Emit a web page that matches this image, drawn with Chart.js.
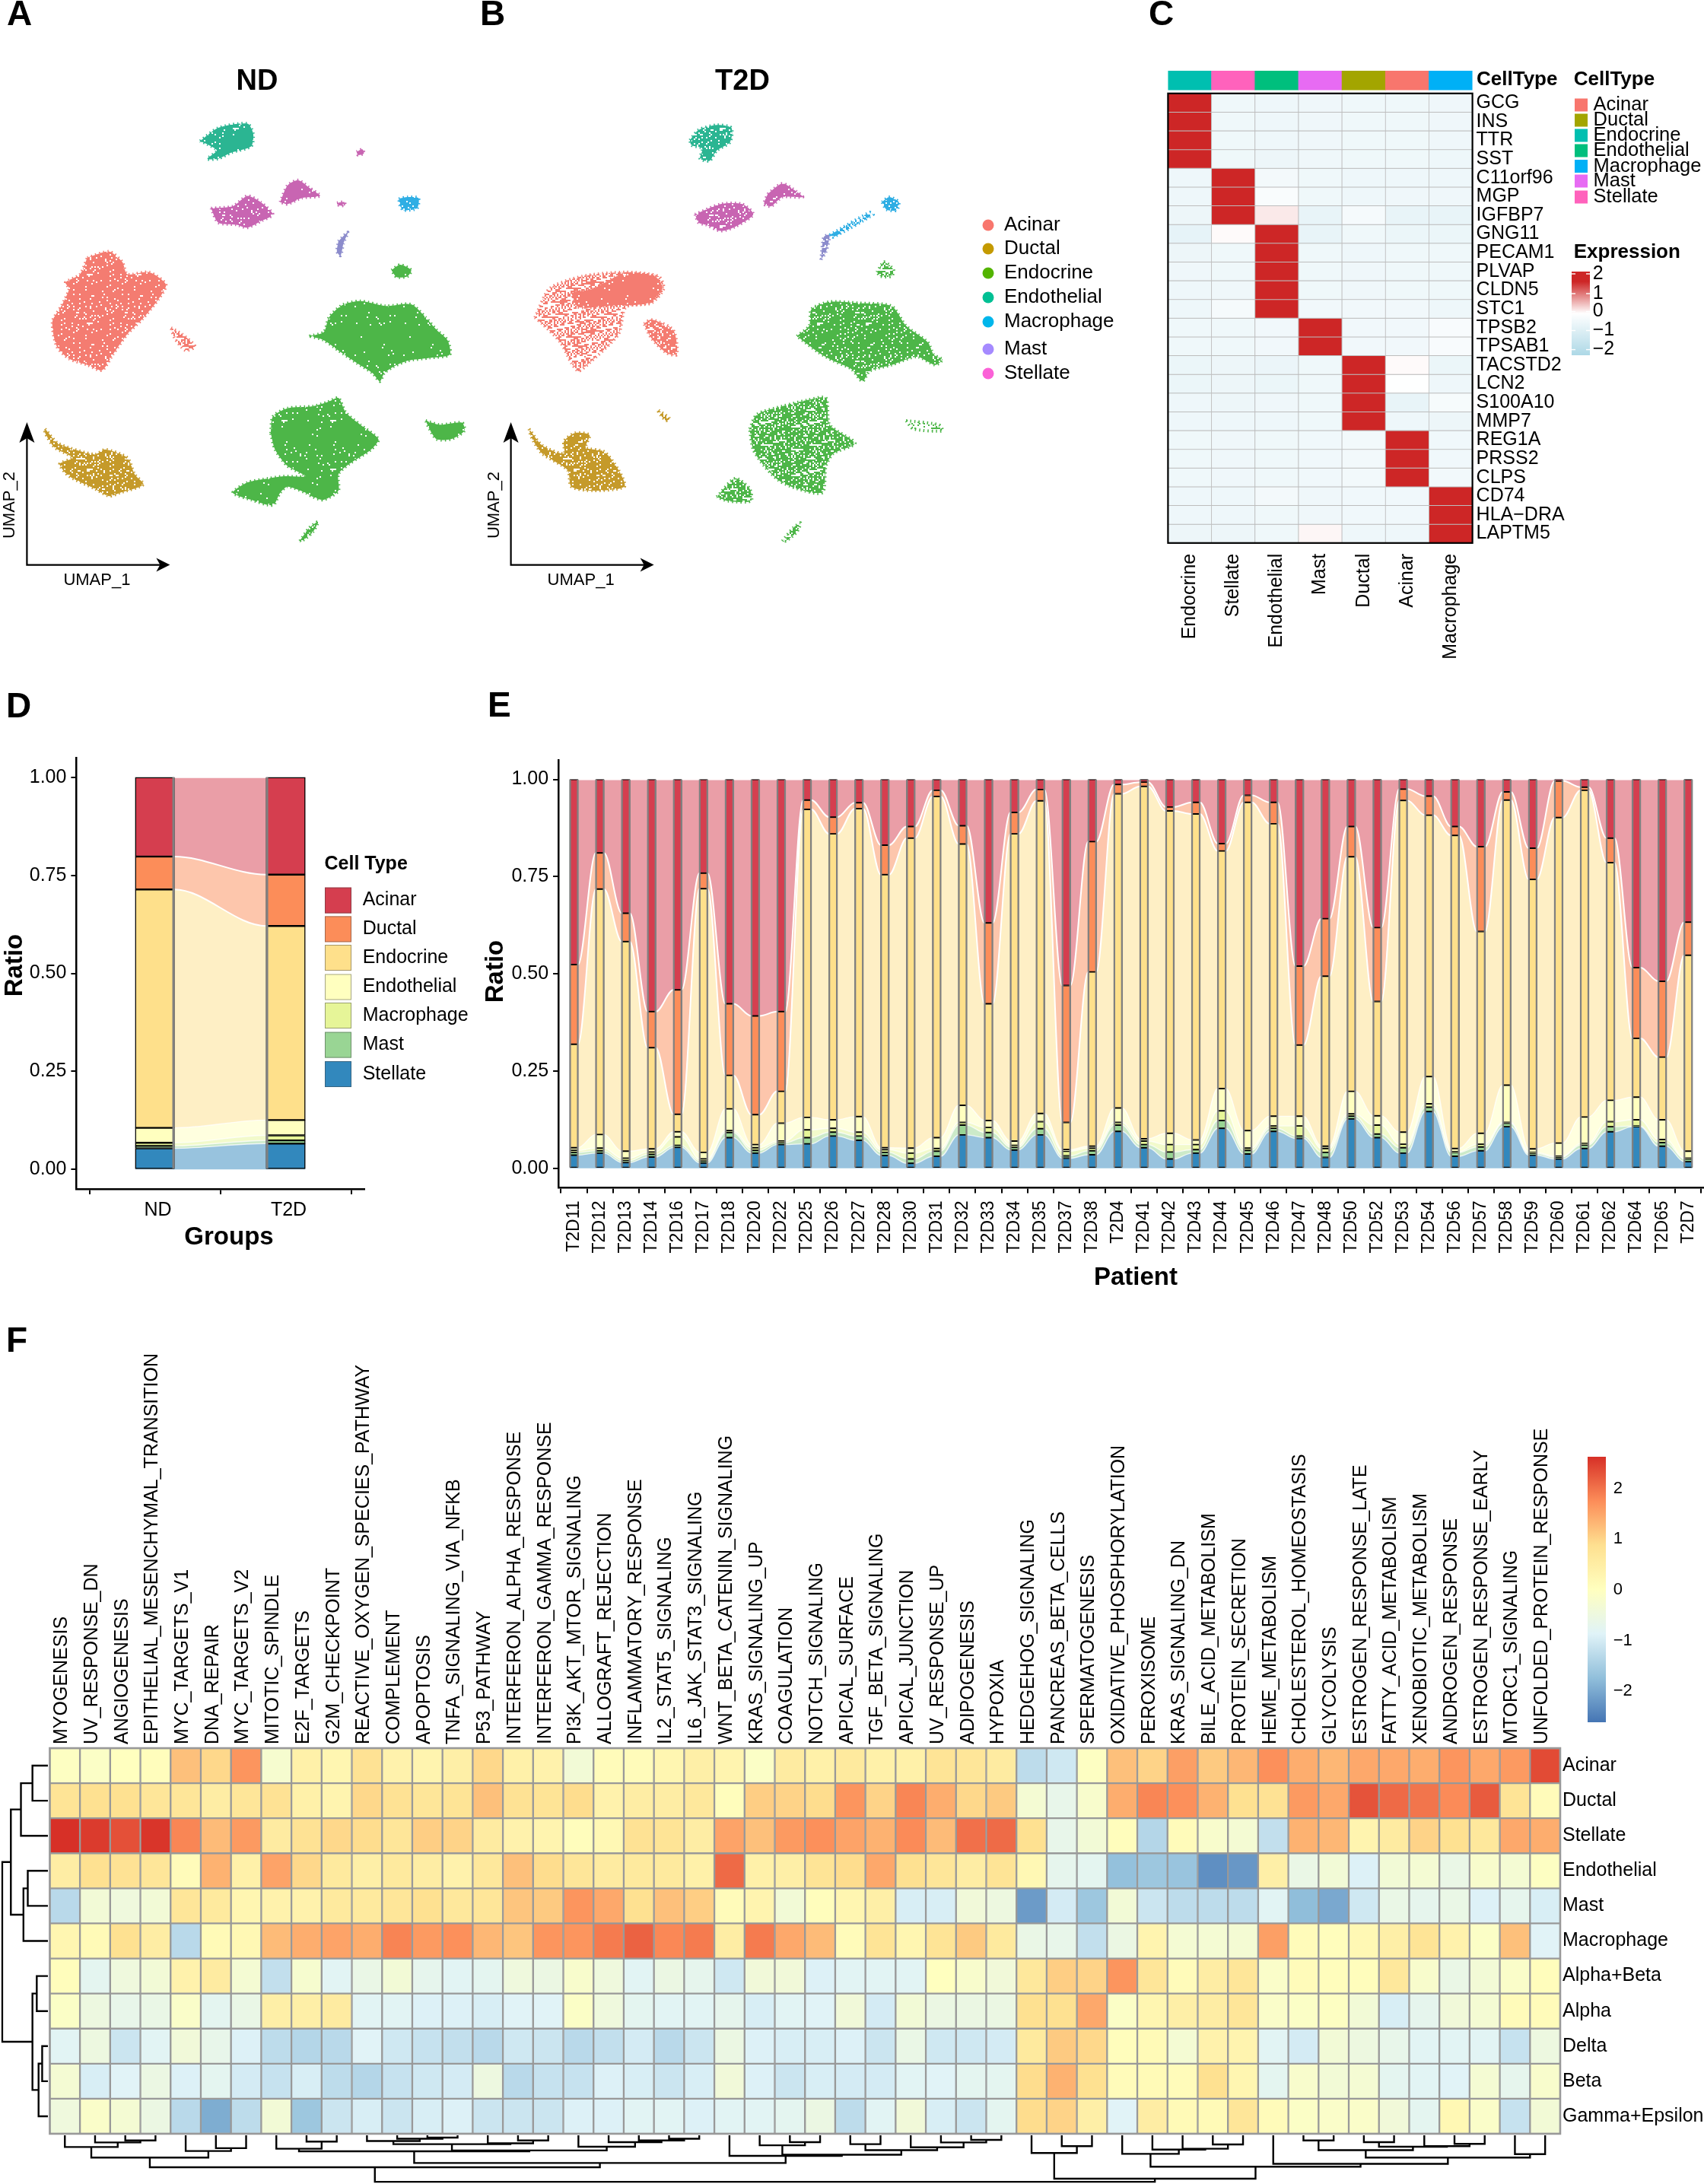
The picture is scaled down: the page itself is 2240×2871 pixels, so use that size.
<!DOCTYPE html>
<html>
<head>
<meta charset="utf-8">
<title>Islet atlas figure</title>
<script src="https://cdn.jsdelivr.net/npm/chart.js@4/dist/chart.umd.min.js"></script>
<style>
  html, body { margin: 0; background: #fff; }
  #page { position: relative; width: 2240px; height: 2871px; overflow: hidden; }
  canvas { position: absolute; left: 0; top: 0; }
</style>
</head>
<body>
<div id="page"></div>
<script>
// ---- panel A / B, cluster outlines in UMAP units
const ndEndothelial = [[24.5,99.8],[27,103],[31,104],[31.8,101.5],[31.5,98.5],[28.8,97],[27,95.5],[25.5,95.5],[26.8,97.5],[25.5,99]];
const ndStellateA = [[26,83.5],[29,84],[31,86.5],[32.8,85],[34.5,82],[33,80.5],[31,78.8],[29.5,79.5],[27,80]];
const ndStellateB = [[35.5,85],[36.5,89],[38,90.3],[39.5,88.5],[41,86.5],[38.5,86],[36.5,84.5]];
const ndStellateC = [[46,97.2],[46.8,97.8],[47,96.8],[46.2,96.4]];
const ndStellateD = [[43.3,84.8],[44.3,85],[44.4,84.2],[43.6,84.2]];
const ndMacrophage = [[51.8,85.8],[53,86.2],[54.5,86],[54.3,83.5],[52.5,83],[52,84]];
const ndMast = [[43.5,75.5],[44.8,77.7],[44.2,75],[43.8,72],[43.3,73]];
const ndEndocrineA = [[50.8,68.5],[52,69.8],[53.5,68.5],[53,67],[51.5,66.8]];
const ndEndocrineB = [[39.5,52.5],[41.5,53.5],[42.2,57],[44,60],[46.5,61],[50,59.8],[53.5,60.2],[55.5,57],[57,54],[58.5,51.5],[58.8,48],[56,47.2],[53,46.5],[51,45],[49.8,43.5],[49.2,41.5],[48.2,43.5],[46,46],[43.5,49],[41.5,51.5]];
const ndEndocrineC = [[34.2,29],[34.5,33],[36.5,35],[40,35.5],[42,36.5],[43.5,37.5],[44.5,34],[46.5,31],[49,27.5],[48,25],[45,21.5],[43.5,19],[43.5,15],[41.5,12.8],[40,13.5],[39,14.5],[36.5,16],[35.5,14.5],[34.5,11.5],[31.5,12.8],[29,14.5],[31,17],[34,18],[36,18.5],[39,18.5],[36.5,21],[34.8,25]];
const ndEndocrineD = [[55.5,32],[57.5,31],[60.5,31.5],[60.8,29.5],[59,27.5],[57,27.5],[56,30]];
const ndEndocrineE = [[38.2,2.8],[39.5,6],[40.7,7.5],[40,5],[38.5,2.8]];
const ndAcinarA = [[9,71.5],[12,73],[13.8,70.5],[14.5,67.5],[17.5,68],[19.8,65],[18.8,61.5],[16.5,56.5],[14.5,53],[12.5,48],[11,44.2],[9,45.5],[6.5,47],[4.8,50],[4.2,56],[5.5,60],[6.5,64],[6,65.5],[8,67.5]];
const ndAcinarB = [[20.5,54.5],[22,53],[23.8,50],[22.5,49],[21,52]];
const ndDuctal = [[3.2,30],[5,26.5],[10,23.8],[11.5,25],[14.5,23],[15.5,19],[16.7,16.5],[13.5,14.5],[12,13.7],[10,15.5],[6.5,18.5],[5.2,21.5],[7,23],[4.5,25.5],[3.2,29]];

const t2dEndothelial = [[25.3,100],[26.5,102.5],[29,103.7],[31,103],[30.8,99.5],[29,97.5],[28,95],[26.7,95.5],[27,98],[25.5,98.8]];
const t2dStellateA = [[26,82],[29.5,84.5],[32.5,84.5],[34,82],[31.5,79],[29.5,78],[27.5,79.5],[26.5,80]];
const t2dStellateB = [[36,87],[38,89.5],[40,87.5],[40.8,86.2],[38,86.2],[36.5,84],[35.5,84.5]];
const t2dMacrophageA = [[51.7,85],[52.7,86.2],[54,85],[53.7,83],[52.3,83.2]];
const t2dMacrophageB = [[44.5,77],[50,82.5],[50.5,82],[45,76.5]];
const t2dMast = [[43.3,71],[43.7,76.5],[44.5,77],[44,73]];
const t2dEndocrineA = [[51,68],[52,70.5],[53.3,68.5],[53,67],[51.5,67]];
const t2dEndocrineB = [[40,52.5],[41.7,55],[42,59],[44.5,60.8],[48.5,60.5],[53,59.8],[55,55],[58,51],[58.8,48],[60,46.8],[59,45.5],[56.5,47.5],[53,45.5],[50,44],[49,41.5],[47.5,44.5],[45,46.5],[43,48.5]];
const t2dEndocrineC = [[33.5,30],[34.5,33.5],[38,35.5],[41.5,37],[44,37.5],[44.5,31],[48,26.5],[45,24],[44,21],[43.5,14.5],[40,15.5],[37.5,17.5],[35.5,21],[34,25]];
const t2dEndocrineD = [[29,13.5],[31.5,18],[33.5,15.5],[33.7,12.5],[30.5,12.5]];
const t2dEndocrineE = [[38,2.8],[39.5,6],[40.5,7.2],[40,5],[38.5,2.8]];
const t2dEndocrineF = [[55,32],[59.5,31],[60,29.5],[56,30]];
const t2dAcinarSparse = [[4,57],[6,64],[10.5,67],[16.5,68],[21,67],[21.7,64],[20,60.5],[16.5,59.5],[15.5,53],[11.5,46],[10,44],[9,46],[7.5,51],[5,55.5]];
const t2dAcinarCore = [[9,63],[12,64],[16,67.5],[20.5,67],[21.5,64],[19.5,60.5],[15,60],[10,59.5]];
const t2dAcinarB = [[19,55.5],[20,56.5],[23,54],[23.5,48],[22,48.5],[20,52]];
const t2dDuctalA = [[3.2,30],[5,26],[8,24],[8,27],[9.5,29],[11.5,28.5],[11,25.5],[13.5,24.5],[15.5,20],[16.3,16],[12,15],[9,16],[8.5,20],[5,24],[3.5,28]];
const t2dDuctalB = [[21,34.5],[22.5,32.5],[22,32],[21,34]];

const umapTypes = ['Acinar', 'Ductal', 'Endocrine', 'Endothelial', 'Macrophage', 'Mast', 'Stellate'];
const umapDots = ['#F8766D', '#C49A00', '#53B400', '#00C094', '#00B6EB', '#A58AFF', '#FB61D7'];

// ---- panel C
const markerGenes = ['GCG','INS','TTR','SST','C11orf96','MGP','IGFBP7','GNG11','PECAM1','PLVAP','CLDN5','STC1','TPSB2','TPSAB1','TACSTD2','LCN2','S100A10','MMP7','REG1A','PRSS2','CLPS','CD74','HLA\u2212DRA','LAPTM5'];
const markerTypes = ['Endocrine','Stellate','Endothelial','Mast','Ductal','Acinar','Macrophage'];
const markerTypeColors = ['#00BFB0','#FF62BC','#00BF7D','#E76BF3','#A3A500','#F8766D','#00B0F6'];
const markerValues = [
  [2,-.38,-.42,-.4,-.38,-.38,-.4],
  [2,-.38,-.42,-.4,-.38,-.38,-.4],
  [2,-.38,-.42,-.4,-.38,-.38,-.4],
  [2,-.38,-.45,-.4,-.38,-.38,-.42],
  [-.42,2,-.3,-.38,-.42,-.42,-.42],
  [-.42,2,-.15,-.38,-.42,-.4,-.4],
  [-.45,2,.2,-.55,-.25,-.55,-.55],
  [-.6,.05,2,-.55,-.38,-.48,-.48],
  [-.45,-.38,2,-.38,-.42,-.38,-.38],
  [-.4,-.38,2,-.38,-.4,-.38,-.38],
  [-.42,-.4,2,-.38,-.4,-.38,-.38],
  [-.42,-.25,2,-.35,-.35,-.35,-.42],
  [-.38,-.38,-.35,2,-.35,-.35,-.18],
  [-.38,-.38,-.35,2,-.35,-.35,-.18],
  [-.48,-.45,-.5,-.38,2,.05,-.48],
  [-.48,-.45,-.48,-.38,2,-.02,-.42],
  [-.42,-.45,-.4,-.38,2,-.55,-.22],
  [-.42,-.42,-.42,-.38,2,-.42,-.45],
  [-.38,-.4,-.38,-.36,-.32,2,-.36],
  [-.38,-.4,-.38,-.36,-.32,2,-.36],
  [-.38,-.4,-.38,-.36,-.32,2,-.32],
  [-.42,-.42,-.3,-.4,-.36,-.36,2],
  [-.42,-.42,-.38,-.4,-.36,-.36,2],
  [-.45,-.45,-.38,.08,-.42,-.42,2]
];
const legendTypes = ['Acinar','Ductal','Endocrine','Endothelial','Macrophage','Mast','Stellate'];
const legendTypeColors = ['#F8766D','#A3A500','#00BFB0','#00BF7D','#00B0F6','#E76BF3','#FF62BC'];
const exprTicks = [2, 1, 0, -1, -2];

// ---- panels D / E, stacked tops of each cell type (bottom to top)
const cellTypes = ['Stellate','Mast','Macrophage','Endothelial','Endocrine','Ductal','Acinar'];
const cellColors = ['#3288BD','#99D594','#E6F598','#FFFFBF','#FEE08B','#FC8D59','#D53E4F'];
const ratioTicks = [0, 0.25, 0.5, 0.75, 1];

const groups = ['ND', 'T2D'];
const groupStellate = [.054, .066];
const groupMast = [.060, .074];
const groupMacrophage = [.068, .087];
const groupEndothelial = [.106, .126];
const groupEndocrine = [.714, .621];
const groupDuctal = [.798, .752];
const groupAcinar = [1, 1];

const patients = ['T2D11','T2D12','T2D13','T2D14','T2D16','T2D17','T2D18','T2D20','T2D22','T2D25','T2D26','T2D27','T2D28','T2D30','T2D31','T2D32','T2D33','T2D34','T2D35','T2D37','T2D38','T2D4','T2D41','T2D42','T2D43','T2D44','T2D45','T2D46','T2D47','T2D48','T2D50','T2D52','T2D53','T2D54','T2D56','T2D57','T2D58','T2D59','T2D60','T2D61','T2D62','T2D64','T2D65','T2D7'];
const patientStellate = [.034,.039,.015,.029,.054,.014,.079,.039,.061,.063,.083,.072,.033,.013,.031,.086,.079,.047,.086,.026,.035,.095,.053,.024,.039,.103,.037,.095,.077,.028,.127,.079,.039,.146,.031,.045,.107,.034,.024,.051,.094,.107,.057,.017];
const patientMast = [.041,.045,.020,.036,.059,.019,.092,.046,.066,.079,.093,.083,.041,.024,.044,.111,.092,.054,.102,.032,.045,.111,.061,.042,.048,.123,.046,.103,.083,.041,.134,.088,.053,.157,.041,.055,.116,.038,.029,.060,.107,.109,.066,.024];
const patientMacrophage = [.046,.052,.026,.042,.081,.024,.097,.053,.070,.099,.103,.093,.048,.039,.051,.118,.105,.059,.120,.044,.052,.118,.070,.061,.061,.148,.052,.109,.109,.051,.140,.111,.062,.166,.043,.062,.118,.041,.031,.064,.120,.125,.074,.026];
const patientEndothelial = [.053,.087,.044,.050,.094,.041,.153,.061,.116,.131,.125,.133,.053,.052,.079,.162,.123,.070,.141,.048,.057,.155,.076,.090,.073,.205,.097,.134,.134,.057,.198,.135,.093,.236,.051,.090,.214,.050,.065,.132,.175,.183,.125,.044];
const patientEndocrine = [.319,.718,.583,.310,.139,.719,.239,.138,.198,.923,.860,.925,.755,.849,.956,.834,.423,.860,.945,.118,.505,.963,.982,.919,.911,.816,.941,.886,.317,.494,.801,.429,.946,.908,.856,.609,.947,.743,.902,.972,.786,.334,.286,.548];
const patientDuctal = [.524,.811,.656,.403,.459,.759,.423,.392,.403,.947,.903,.940,.831,.879,.972,.881,.631,.915,.974,.470,.840,.987,.993,.929,.941,.835,.959,.941,.520,.642,.879,.619,.975,.957,.879,.827,.968,.823,.996,.980,.849,.516,.481,.633];
const patientAcinar = [1,1,1,1,1,1,1,1,1,1,1,1,1,1,1,1,1,1,1,1,1,1,1,1,1,1,1,1,1,1,1,1,1,1,1,1,1,1,1,1,1,1,1,1];

// ---- panel F
const pathways = ['MYOGENESIS','UV_RESPONSE_DN','ANGIOGENESIS','EPITHELIAL_MESENCHYMAL_TRANSITION','MYC_TARGETS_V1','DNA_REPAIR','MYC_TARGETS_V2','MITOTIC_SPINDLE','E2F_TARGETS','G2M_CHECKPOINT','REACTIVE_OXYGEN_SPECIES_PATHWAY','COMPLEMENT','APOPTOSIS','TNFA_SIGNALING_VIA_NFKB','P53_PATHWAY','INTERFERON_ALPHA_RESPONSE','INTERFERON_GAMMA_RESPONSE','PI3K_AKT_MTOR_SIGNALING','ALLOGRAFT_REJECTION','INFLAMMATORY_RESPONSE','IL2_STAT5_SIGNALING','IL6_JAK_STAT3_SIGNALING','WNT_BETA_CATENIN_SIGNALING','KRAS_SIGNALING_UP','COAGULATION','NOTCH_SIGNALING','APICAL_SURFACE','TGF_BETA_SIGNALING','APICAL_JUNCTION','UV_RESPONSE_UP','ADIPOGENESIS','HYPOXIA','HEDGEHOG_SIGNALING','PANCREAS_BETA_CELLS','SPERMATOGENESIS','OXIDATIVE_PHOSPHORYLATION','PEROXISOME','KRAS_SIGNALING_DN','BILE_ACID_METABOLISM','PROTEIN_SECRETION','HEME_METABOLISM','CHOLESTEROL_HOMEOSTASIS','GLYCOLYSIS','ESTROGEN_RESPONSE_LATE','FATTY_ACID_METABOLISM','XENOBIOTIC_METABOLISM','ANDROGEN_RESPONSE','ESTROGEN_RESPONSE_EARLY','MTORC1_SIGNALING','UNFOLDED_PROTEIN_RESPONSE'];
const cellRows = ['Acinar','Ductal','Stellate','Endothelial','Mast','Macrophage','Alpha+Beta','Alpha','Delta','Beta','Gamma+Epsilon'];
const acinarScores = [-.05,-.1,0,.05,1.2,.95,1.65,-.25,.4,.25,.8,.35,.3,.45,.95,.4,.35,-.35,.1,.1,.25,.45,.3,-.1,.55,.4,.6,.4,.4,.75,.7,.55,-1.25,-1.05,-.05,1.2,1,1.55,1.1,1.3,1.7,1.4,1.3,1.45,1.45,1.4,1.65,1.45,1.6,2.35];
const ductalScores = [.75,.85,.85,.7,.7,.5,.7,.8,.4,.3,.95,.8,.7,.75,1.2,.8,.75,.9,.35,.5,.5,.65,.05,1.05,1,.9,1.65,1,1.8,1.4,.95,1.1,-.3,-.65,-.2,1.4,1.8,1.7,1.35,.85,.8,1.6,1.45,2.27,2.06,1.96,1.75,2.2,.75,.1];
const stellateScores = [2.6,2.5,2.3,2.55,1.8,1.25,1.6,.55,.8,.95,.9,.7,1.05,1,.55,.35,.3,.05,.2,.8,.75,.5,1.5,1.2,1.6,1.7,1.5,1.35,1.75,1.25,2,2.05,.85,-.65,-.35,.05,-1.35,.1,-.2,-.3,-1.2,1.35,1.3,.3,.55,1,.85,.65,1.45,1.4];
const endothelialScores = [.5,.85,.8,.7,.1,1.35,.4,1.5,.95,.6,.45,.6,.5,.35,.65,1.2,.9,.7,.55,.6,.6,.4,2.06,.4,.45,.75,.9,1.45,.85,.7,.5,.75,.2,-.7,-.75,-1.7,-1.6,-1.65,-2.3,-2.2,.45,-.6,-.35,-.9,-.35,-.3,-.6,-.2,-.3,-.05];
const mastScores = [-1.3,-.35,-.45,-.35,.7,.6,.25,.35,.35,.6,.6,.7,.85,.65,.7,1.15,1.1,1.65,1.45,.85,1.2,1.05,.1,.3,-.35,.05,.25,.45,-.95,-.95,-.4,-.5,-2.15,-1,-1.6,-.35,-1.1,-1.25,-1.25,-1.25,-.8,-1.75,-2,-1.05,-.6,-.7,-.6,-.9,-.7,-.95];
const macrophageScores = [.25,.15,.85,.5,-1.3,.15,.2,1.25,1.4,1.5,1.4,1.82,1.6,1.7,1.3,1.15,1.65,1.65,1.9,2.13,1.78,1.9,.5,1.9,1.45,1.25,.1,.75,.25,.75,1.1,.6,-.6,-.65,-1.2,-.55,.3,-.3,-.3,-.3,1.55,.1,.05,.2,.45,.75,.35,-.1,1.2,-.85];
const alphaBetaScores = [.05,-.75,-.45,-.35,.35,.55,-.3,-1.2,-.25,-.8,-.6,-.35,-.7,-.8,-.75,-.45,-.55,-.2,-.45,-.8,-.55,-.7,-1.05,-.4,-.4,-.9,-.8,-.8,-.8,0,-.2,-.4,.65,1.05,1,1.65,.7,.1,.5,.7,-.15,.1,.05,.05,.65,-.2,-.6,-.35,-.15,.05];
const alphaScores = [-.1,-.5,-.65,-.6,-.15,-.75,-.6,.45,.45,.55,-.8,-.8,-.9,-.9,-.95,-.85,-.85,-.1,-.45,-.75,-.8,-.8,-.7,-.95,-.8,-.85,-.4,-1,-.35,-.55,-.55,-.55,.85,.85,1.45,-.1,.25,.45,.5,.7,-.15,-.1,-.05,-.35,-.95,-.7,-.4,-.3,.1,.1];
const deltaScores = [-.8,-.5,-1.1,-.8,-.4,-.65,-.9,-1.25,-1.35,-1.3,-.85,-1.05,-1.15,-1.2,-1.3,-1.05,-1.1,-1.3,-1.2,-1,-1.3,-1.1,-.55,-.9,-.95,-.95,-.9,-1.1,-.6,-1.05,-1.05,-1,.6,1.1,.95,.05,.15,-.3,.35,.3,-.8,-1,-.35,-.5,-.65,-.8,-.8,-.8,-1.15,-.5];
const betaScores = [-.3,-.95,-.85,-.55,-.9,-.75,-1,-1.15,-.95,-1.25,-1.35,-1.15,-1.05,-1,-.5,-1.3,-1.15,-1.15,-.9,-.95,-1.1,-.95,-.4,-.9,-1.1,-.95,-1,-1,-.8,-.85,-.75,-.75,.9,1.35,.85,.1,.15,.1,.85,.25,-.75,-.2,-.35,-.3,-.75,-.8,-.85,-.3,-.7,-.2];
const gammaEpsilonScores = [-.45,-.15,-.3,-.55,-1.3,-1.95,-1.25,-.35,-1.6,-1.1,-.95,-1.1,-.95,-.9,-1.1,-1.1,-1.1,-.9,-.9,-.8,-.8,-.9,-.8,-.8,-.75,-.55,-1.25,-.8,-.4,-.95,-1.1,-.75,.9,1,.45,-.85,.5,.15,.15,.7,.1,-.1,-.15,-.15,-.4,-.75,.2,-.15,-1.15,-.35];
const scoreTicks = [2, 1, 0, -1, -2];

// dendrograms, hclust style: negative = leaf number, positive = earlier merge number
const pathwayMerges = [[-3,-4,1.8],[-2,1,2.5],[-1,2,4.1],[-6,-7,4.5],[-5,4,5.5],[3,5,7.8],[-9,-10,2.2],[-8,7,4.7],[-13,-14,.8],[-12,9,1.2],[-11,10,2],[-16,-17,1.8],[-15,12,2.8],[11,13,3.1],[-21,-22,1.2],[-20,15,1.8],[-19,16,2.4],[-18,17,4],[14,18,5.3],[8,19,5.6],[-25,-26,2.4],[-24,21,3.5],[-27,-28,3.1],[-31,-32,1.6],[-30,24,2.5],[-29,25,4.2],[23,26,5.2],[22,27,6.8],[-23,28,7.2],[20,29,9.7],[6,30,11.2],[-34,-35,3.8],[-33,32,6.2],[-39,-40,3.2],[-38,34,4.7],[-37,35,5],[-36,36,6.5],[-42,-43,1.8],[-44,-45,2.4],[-47,-48,3],[-46,40,3.8],[39,41,4],[38,42,5.2],[-49,-50,6.6],[43,44,7.8],[-41,45,10],[37,46,11],[33,47,15.2],[31,48,16.3]];
const rowMerges = [[-1,-2,4.3],[1,-3,7.5],[-4,-5,5.6],[3,-6,6.8],[2,4,10.3],[-7,-8,3.1],[-9,-10,1.6],[7,-11,2.6],[6,8,4.3],[5,9,12.7]];

// ---- setup
Chart.defaults.font.family = '"Liberation Sans"';
Chart.defaults.color = '#000';
Chart.defaults.animation = false;
Chart.defaults.devicePixelRatio = 1;
Chart.defaults.responsive = false;
Chart.defaults.events = [];
Chart.defaults.plugins.legend.display = false;
Chart.defaults.plugins.tooltip.enabled = false;

const W = 2240, H = 2871;
const page = document.getElementById('page');

function newCanvas() {
  const c = document.createElement('canvas');
  c.width = W;
  c.height = H;
  page.appendChild(c);
  return c;
}

// plot area in page pixels, every canvas covers the whole page
function area(left, top, right, bottom) {
  return { padding: { left, top, right: W - right, bottom: H - bottom } };
}

function fixSize(prop, size) {
  return s => {
    s[prop] = size;
    s.paddingLeft = s.paddingRight = s.paddingTop = s.paddingBottom = 0;
  };
}

function text(ctx, str, x, y, font, opts) {
  opts = opts || {};
  ctx.save();
  ctx.font = font + ' "Liberation Sans"';
  ctx.fillStyle = opts.color || '#000';
  ctx.textAlign = opts.align || 'left';
  ctx.textBaseline = 'middle';
  ctx.translate(x, y);
  if (opts.up) ctx.rotate(-Math.PI / 2);
  ctx.fillText(str, 0, 0);
  ctx.restore();
}

function mix(a, b, t) {
  const pa = parseInt(a.slice(1), 16), pb = parseInt(b.slice(1), 16);
  const ch = s => {
    const x = (pa >> s) & 255, y = (pb >> s) & 255;
    return Math.round(x + (y - x) * t);
  };
  return 'rgb(' + ch(16) + ',' + ch(8) + ',' + ch(0) + ')';
}

function exprColor(v) {
  const t = Math.min(Math.abs(v) / 2, 1);
  return v >= 0 ? mix('#FFFFFF', '#CD2626', t) : mix('#FFFFFF', '#ADD8E6', t);
}

const scoreStops = ['#4575B4','#91BFDB','#E0F3F8','#FFFFBF','#FEE090','#FC8D59','#D73027'];
function scoreColor(v) {
  const p = Math.max(0, Math.min(5.999, (v + 2.6) / 5.2 * 6));
  const i = Math.floor(p);
  return mix(scoreStops[i], scoreStops[i + 1], p - i);
}

// grainy fill so the clusters read as dense point clouds (fixed hash, no randomness)
function stipple(color, keep) {
  const n = 64;
  const tile = document.createElement('canvas');
  tile.width = tile.height = n;
  const t = tile.getContext('2d');
  t.fillStyle = color;
  t.fillRect(0, 0, n, n);
  for (let y = 0; y < n; y += 2) {
    for (let x = 0; x < n; x += 2) {
      const h = (x * x * 13 + y * y * 7 + x * y * 3 + x * 17 + y * 29) % 101;
      if (h / 101 > keep) t.clearRect(x, y, 2, 2);
    }
  }
  return t.createPattern(tile, 'repeat');
}

function blob(points, color, keep) {
  return {
    data: points.concat([points[0]]),
    showLine: true,
    fill: 'shape',
    tension: 0.25,
    pointRadius: 0,
    backgroundColor: stipple(color, keep === undefined ? 0.97 : keep),
    borderColor: color,
    borderWidth: 4,
    borderDash: [1.5, 4]
  };
}

function umapArrows(ctx, x0) {
  const y0 = 742.6;
  ctx.save();
  ctx.strokeStyle = '#000';
  ctx.fillStyle = '#000';
  ctx.lineWidth = 2.2;
  ctx.beginPath();
  ctx.moveTo(x0, 570);
  ctx.lineTo(x0, y0);
  ctx.lineTo(x0 + 178, y0);
  ctx.stroke();
  ctx.beginPath();
  ctx.moveTo(x0, 555);
  ctx.lineTo(x0 - 10, 582);
  ctx.lineTo(x0, 576);
  ctx.lineTo(x0 + 10, 582);
  ctx.closePath();
  ctx.fill();
  ctx.beginPath();
  ctx.moveTo(x0 + 188, y0);
  ctx.lineTo(x0 + 170, y0 - 9);
  ctx.lineTo(x0 + 175, y0);
  ctx.lineTo(x0 + 170, y0 + 9);
  ctx.closePath();
  ctx.fill();
  ctx.restore();
  text(ctx, 'UMAP_1', x0 + 92, 763, '22px', { align: 'center' });
  text(ctx, 'UMAP_2', x0 - 22, 664, '22px', { align: 'center', up: true });
}

function umapChart(left, right, datasets, draw) {
  new Chart(newCanvas(), {
    type: 'scatter',
    data: { datasets },
    options: {
      layout: area(left, 157.2, right, 726.4),
      scales: {
        x: { display: false, min: 0, max: 62 },
        y: { display: false, min: 0, max: 105 }
      }
    },
    plugins: [{ id: 'umapNotes', afterDraw: c => draw(c.ctx) }]
  });
}

// ---- panel A
const salmon = '#F47C71', ochre = '#C59A2A', green = '#4DB648', teal = '#2BB592', orchid = '#C865B2', sky = '#2FAEE4', violet = '#8C8CCC';
umapChart(28.7, 621.8, [
  blob(ndEndothelial, teal, 0.92), blob(ndStellateA, orchid, 0.92), blob(ndStellateB, orchid, 0.92), blob(ndStellateC, orchid), blob(ndStellateD, orchid),
  blob(ndMacrophage, sky, 0.9), blob(ndMast, violet),
  blob(ndEndocrineA, green), blob(ndEndocrineB, green), blob(ndEndocrineC, green, 0.95), blob(ndEndocrineD, green, 0.95), blob(ndEndocrineE, green, 0.8),
  blob(ndAcinarA, salmon, 0.9), blob(ndAcinarB, salmon, 0.5), blob(ndDuctal, ochre, 0.85)
], ctx => {
  text(ctx, 'A', 9, 20, 'bold 46px');
  text(ctx, 'ND', 338, 108, 'bold 38px', { align: 'center' });
  umapArrows(ctx, 35.4);
});

// ---- panel B
umapChart(664.9, 1258, [
  blob(t2dEndothelial, teal, 0.85), blob(t2dStellateA, orchid, 0.88), blob(t2dStellateB, orchid, 0.88),
  blob(t2dMacrophageA, sky, 0.85), blob(t2dMacrophageB, sky, 0.5), blob(t2dMast, violet, 0.8),
  blob(t2dEndocrineA, green, 0.5), blob(t2dEndocrineB, green, 0.88), blob(t2dEndocrineC, green, 0.75), blob(t2dEndocrineD, green, 0.75), blob(t2dEndocrineE, green, 0.55), blob(t2dEndocrineF, green, 0.12),
  blob(t2dAcinarSparse, salmon, 0.5), blob(t2dAcinarCore, salmon, 0.95), blob(t2dAcinarB, salmon, 0.8),
  blob(t2dDuctalA, ochre, 0.85), blob(t2dDuctalB, ochre, 0.8)
], ctx => {
  text(ctx, 'B', 631, 20, 'bold 46px');
  text(ctx, 'T2D', 976, 108, 'bold 38px', { align: 'center' });
  umapArrows(ctx, 671.6);
  const rows = [296, 327, 359, 391, 423, 459, 491];
  umapTypes.forEach((t, i) => {
    ctx.fillStyle = umapDots[i];
    ctx.beginPath();
    ctx.arc(1299, rows[i], 7.5, 0, Math.PI * 2);
    ctx.fill();
    text(ctx, t, 1320, rows[i], '26px');
  });
});

// ---- panel C, annotation strip and marker heatmap
new Chart(newCanvas(), {
  type: 'bar',
  data: {
    labels: markerTypes,
    datasets: [{ data: markerTypes.map(() => 1), backgroundColor: markerTypeColors, categoryPercentage: 1, barPercentage: 1 }]
  },
  options: {
    layout: area(1535.4, 93, 1935.6, 118.6),
    scales: { x: { display: false }, y: { display: false, min: 0, max: 1 } }
  }
});

new Chart(newCanvas(), {
  type: 'bar',
  data: {
    labels: markerTypes,
    datasets: markerGenes.map((g, r) => ({
      label: g,
      data: markerValues[r].map(() => 1),
      backgroundColor: markerValues[r].map(exprColor),
      borderColor: '#BDBDBD',
      borderWidth: 0.8,
      borderSkipped: false,
      categoryPercentage: 1,
      barPercentage: 1
    }))
  },
  options: {
    layout: area(1535.4, 122.8, 2125.6, 883.8),
    scales: {
      x: {
        stacked: true,
        afterFit: fixSize('height', 170),
        grid: { display: false, drawTicks: false },
        border: { display: false },
        ticks: { font: { size: 25 }, minRotation: 90, maxRotation: 90, autoSkip: false, padding: 14 }
      },
      y: {
        stacked: true,
        position: 'right',
        reverse: true,
        min: 0,
        max: markerGenes.length,
        afterBuildTicks: s => { s.ticks = markerGenes.map((g, i) => ({ value: i + 0.5 })); },
        afterFit: fixSize('width', 190),
        grid: { display: false, drawTicks: false },
        border: { display: false },
        ticks: { font: { size: 25 }, autoSkip: false, padding: 5, callback: (v, i) => markerGenes[i] }
      }
    }
  },
  plugins: [{
    id: 'markerNotes',
    afterDraw(c) {
      const ctx = c.ctx, a = c.chartArea;
      ctx.strokeStyle = '#000';
      ctx.lineWidth = 2.2;
      ctx.strokeRect(a.left, a.top, a.right - a.left, a.bottom - a.top);
      text(ctx, 'C', 1510, 20, 'bold 46px');
      text(ctx, 'CellType', 1941, 104.5, 'bold 26px');
      text(ctx, 'CellType', 2068.7, 104.5, 'bold 26px');
      const rows = [138, 158, 178, 198, 218.5, 238, 259];
      legendTypes.forEach((t, i) => {
        ctx.fillStyle = legendTypeColors[i];
        ctx.fillRect(2070, rows[i] - 8.5, 17, 17);
        text(ctx, t, 2094.6, rows[i], '25.5px');
      });
      text(ctx, 'Expression', 2068.7, 332, 'bold 26px');
      const g = ctx.createLinearGradient(0, 357, 0, 467);
      g.addColorStop(0, '#CD2626');
      g.addColorStop(0.12, '#CD2626');
      g.addColorStop(0.5, '#FFFFFF');
      g.addColorStop(1, '#ADD8E6');
      ctx.fillStyle = g;
      ctx.fillRect(2066, 357, 24, 110);
      const tickY = [360, 386, 409.5, 434.5, 459.6];
      exprTicks.forEach((v, i) => {
        ctx.fillStyle = '#fff';
        ctx.fillRect(2066, tickY[i] - 0.7, 5, 1.4);
        ctx.fillRect(2085, tickY[i] - 0.7, 5, 1.4);
        text(ctx, v < 0 ? '\u2212' + (-v) : String(v), 2093.7, tickY[i], '25px');
      });
    }
  }]
});

// ---- panels D and E, bars with sigmoid flows between them
function flowDatasets(xs, half, tops) {
  return tops.map((top, k) => ({
    type: 'line',
    data: xs.flatMap((x, i) => [{ x: x - half, y: top[i] }, { x: x + half, y: top[i] }]),
    cubicInterpolationMode: 'monotone',
    pointRadius: 0,
    borderColor: k >= 4 ? '#fff' : 'rgba(255,255,255,0.75)',
    borderWidth: k >= 4 ? 2 : 1.4,
    fill: k === 0 ? { value: 0 } : '-1',
    backgroundColor: cellColors[k] + '80',
    order: 3
  }));
}

function barDatasets(xs, tops, thickness, border) {
  return tops.map((top, k) => ({
    type: 'bar',
    data: xs.map((x, i) => ({ x, y: [k === 0 ? 0 : tops[k - 1][i], top[i]] })),
    backgroundColor: cellColors[k],
    borderColor: '#000',
    borderWidth: border,
    borderSkipped: false,
    barThickness: thickness,
    grouped: false,
    order: 2
  }));
}

function axisStyle(extra) {
  return Object.assign({
    grid: { drawOnChartArea: false, color: '#000', lineWidth: 2, tickLength: 7 },
    border: { color: '#000', width: 2.5 }
  }, extra);
}

// ---- panel D
const groupTops = [groupStellate, groupMast, groupMacrophage, groupEndothelial, groupEndocrine, groupDuctal, groupAcinar];
const groupX = groups.map((g, i) => i + 1);
new Chart(newCanvas(), {
  type: 'bar',
  data: {
    datasets: flowDatasets(groupX, 0.15, groupTops).concat(barDatasets(groupX, groupTops, 51.6, 1.5), [{
      type: 'bar',
      data: groupX.map(x => ({ x, y: [0, 1] })),
      backgroundColor: 'rgba(0,0,0,0)',
      borderColor: '#808080',
      borderWidth: ctx => (ctx.dataIndex === 0 ? { right: 2.5 } : { left: 2.5 }),
      borderSkipped: false,
      barThickness: 51.6,
      grouped: false,
      order: 1
    }])
  },
  options: {
    layout: area(0, 996.1, 478.7, 1646.2),
    scales: {
      x: axisStyle({
        type: 'linear',
        offset: false,
        min: 0.4,
        max: 2.6,
        afterBuildTicks: s => { s.ticks = groupX.map(v => ({ value: v })); },
        afterFit: fixSize('height', 83.1),
        ticks: { font: { size: 25 }, padding: 6, labelOffset: 4, callback: (v, i) => groups[i] }
      }),
      y: axisStyle({
        min: -0.05,
        max: 1.05,
        afterBuildTicks: s => { s.ticks = ratioTicks.map(v => ({ value: v })); },
        afterFit: fixSize('width', 100.4),
        ticks: { font: { size: 25 }, padding: 6, callback: v => v.toFixed(2) }
      })
    }
  },
  plugins: [{
    id: 'groupNotes',
    afterDraw(c) {
      const ctx = c.ctx;
      text(ctx, 'D', 8, 930, 'bold 46px');
      text(ctx, 'Ratio', 19.6, 1269, 'bold 33px', { align: 'center', up: true });
      text(ctx, 'Groups', 301, 1627, 'bold 33px', { align: 'center' });
      text(ctx, 'Cell Type', 426.5, 1136, 'bold 25px');
      const rows = [1183.6, 1221.4, 1259, 1297.5, 1335, 1373.6, 1412];
      cellTypes.slice().reverse().forEach((t, i) => {
        ctx.fillStyle = cellColors[6 - i];
        ctx.strokeStyle = 'rgba(60,60,60,0.45)';
        ctx.lineWidth = 1;
        ctx.fillRect(427, rows[i] - 17, 35, 34);
        ctx.strokeRect(427.5, rows[i] - 16.5, 34, 33);
        text(ctx, t, 476.7, rows[i], '25px');
      });
    }
  }]
});

// ---- panel E
const patientTops = [patientStellate, patientMast, patientMacrophage, patientEndothelial, patientEndocrine, patientDuctal, patientAcinar];
const patientX = patients.map((p, i) => i + 1);
new Chart(newCanvas(), {
  type: 'bar',
  data: {
    datasets: flowDatasets(patientX, 0.16, patientTops).concat(barDatasets(patientX, patientTops, 11, { top: 1.3, bottom: 1.3 }), [{
      type: 'bar',
      data: patientX.map(x => ({ x, y: [0, 1] })),
      backgroundColor: 'rgba(0,0,0,0)',
      borderColor: '#808080',
      borderWidth: { left: 1.8, right: 1.8 },
      borderSkipped: false,
      barThickness: 12,
      grouped: false,
      order: 1
    }])
  },
  options: {
    layout: area(632.8, 999, 2239.7, 1699.2),
    scales: {
      x: axisStyle({
        type: 'linear',
        offset: false,
        min: 0.4,
        max: 44.6,
        afterBuildTicks: s => { s.ticks = patientX.map(v => ({ value: v })); },
        afterFit: fixSize('height', 137.8),
        ticks: { font: { size: 23 }, padding: 10, minRotation: 90, maxRotation: 90, autoSkip: false, callback: (v, i) => patients[i] }
      }),
      y: axisStyle({
        min: -0.05,
        max: 1.05,
        afterBuildTicks: s => { s.ticks = ratioTicks.map(v => ({ value: v })); },
        afterFit: fixSize('width', 101.26),
        ticks: { font: { size: 25 }, padding: 6, callback: v => v.toFixed(2) }
      })
    }
  },
  plugins: [{
    id: 'patientNotes',
    afterDraw(c) {
      text(c.ctx, 'E', 641, 929, 'bold 46px');
      text(c.ctx, 'Ratio', 652, 1277, 'bold 33px', { align: 'center', up: true });
      text(c.ctx, 'Patient', 1493, 1680, 'bold 33px', { align: 'center' });
    }
  }]
});

// ---- panel F, heatmap
const rowScores = [acinarScores, ductalScores, stellateScores, endothelialScores, mastScores, macrophageScores, alphaBetaScores, alphaScores, deltaScores, betaScores, gammaEpsilonScores];
new Chart(newCanvas(), {
  type: 'bar',
  data: {
    labels: pathways,
    datasets: cellRows.map((r, i) => ({
      label: r,
      data: rowScores[i].map(() => 1),
      backgroundColor: rowScores[i].map(scoreColor),
      borderColor: '#999999',
      borderWidth: 1.5,
      borderSkipped: false,
      categoryPercentage: 1,
      barPercentage: 1
    }))
  },
  options: {
    layout: area(65.4, 1768, 2240, 2805),
    scales: {
      x: {
        stacked: true,
        position: 'top',
        afterFit: fixSize('height', 530),
        grid: { display: false, drawTicks: false },
        border: { display: false },
        ticks: { font: { size: 25 }, minRotation: 90, maxRotation: 90, autoSkip: false, padding: 5, labelOffset: 26 }
      },
      y: {
        stacked: true,
        position: 'right',
        reverse: true,
        min: 0,
        max: cellRows.length,
        afterBuildTicks: s => { s.ticks = cellRows.map((r, i) => ({ value: i + 0.5 })); },
        afterFit: fixSize('width', 189),
        grid: { display: false, drawTicks: false },
        border: { display: false },
        ticks: { font: { size: 25 }, autoSkip: false, padding: 3, callback: (v, i) => cellRows[i] }
      }
    }
  },
  plugins: [{
    id: 'scoreNotes',
    afterDraw(c) {
      const ctx = c.ctx, a = c.chartArea;
      ctx.strokeStyle = '#999999';
      ctx.lineWidth = 2.5;
      ctx.strokeRect(a.left, a.top, a.right - a.left, a.bottom - a.top);
      text(ctx, 'F', 8, 1764, 'bold 46px');
      const g = ctx.createLinearGradient(0, 1915, 0, 2264);
      scoreStops.slice().reverse().forEach((col, i) => g.addColorStop(i / 6, col));
      ctx.fillStyle = g;
      ctx.fillRect(2087, 1915, 24, 349);
      const tickY = [1957, 2023, 2090, 2157, 2223];
      scoreTicks.forEach((v, i) => {
        text(ctx, v < 0 ? '\u2212' + (-v) : String(v), 2120.7, tickY[i], '22px');
      });
    }
  }]
});

// ---- panel F, dendrograms
function dendroPoints(merges, sideways) {
  const nodes = [];
  const pts = [];
  const add = (p, h) => pts.push(sideways ? { x: h, y: p } : { x: p, y: h });
  merges.forEach(([a, b, h]) => {
    const A = a < 0 ? { p: -a - 0.5, h: 0 } : nodes[a - 1];
    const B = b < 0 ? { p: -b - 0.5, h: 0 } : nodes[b - 1];
    add(A.p, A.h);
    add(A.p, h);
    add(B.p, h);
    add(B.p, B.h);
    pts.push({ x: NaN, y: NaN });
    nodes.push({ p: (A.p + B.p) / 2, h });
  });
  return pts;
}

function dendroSet(points) {
  return { data: points, showLine: true, spanGaps: false, pointRadius: 0, borderColor: '#000', borderWidth: 2.4, tension: 0 };
}

new Chart(newCanvas(), {
  type: 'scatter',
  data: { datasets: [dendroSet(dendroPoints(pathwayMerges, false))] },
  options: {
    layout: area(65.4, 2807, 2051, 2870),
    scales: {
      x: { display: false, min: 0, max: pathways.length },
      y: { display: false, min: 0, max: 16.8, reverse: true }
    }
  }
});

new Chart(newCanvas(), {
  type: 'scatter',
  data: { datasets: [dendroSet(dendroPoints(rowMerges, true))] },
  options: {
    layout: area(1.5, 2298, 63, 2805),
    scales: {
      x: { display: false, min: 0, max: 13, reverse: true },
      y: { display: false, min: 0, max: cellRows.length, reverse: true }
    }
  }
});
</script>
</body>
</html>
